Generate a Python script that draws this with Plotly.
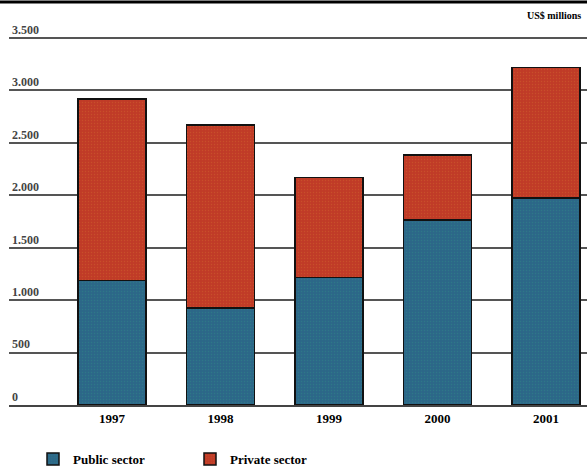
import plotly.graph_objects as go

# Investment by sector, US$ millions
years = ["1997", "1998", "1999", "2000", "2001"]
public_sector = [1186, 923, 1215, 1765, 1972]
private_sector = [1733, 1746, 954, 620, 1247]

y_tick_values = [0, 500, 1000, 1500, 2000, 2500, 3000, 3500]
y_tick_labels = ["0", "500", "1.000", "1.500", "2.000", "2.500", "3.000", "3.500"]

BLUE = "#2c6788"
RED = "#c03b27"
SERIF = "Liberation Serif"

fig = go.Figure()
fig.add_trace(go.Bar(
    x=years, y=public_sector, name="Public sector",
    marker=dict(color=BLUE, line=dict(color="#111111", width=1.5),
                pattern=dict(shape=".", size=3, solidity=0.15, fgcolor="#2f8a86")),
))
fig.add_trace(go.Bar(
    x=years, y=private_sector, name="Private sector",
    marker=dict(color=RED, line=dict(color="#111111", width=1.5),
                pattern=dict(shape=".", size=3, solidity=0.15, fgcolor="#d0632e")),
))

W, H = 587, 468
ml, mr, mt, mb = 9, 0, 8, 63
plot_w = W - ml - mr
plot_h = H - mt - mb
y_base = H - mb                      # pixel row of the zero line
px_per_unit = (y_base - 38) / 3500   # 3.500 grid line sits near the top
y_top = plot_h / px_per_unit
step = 108.5
x0 = -(112 - ml) / step
x1 = x0 + plot_w / step


def paper_y(py):
    return (y_base - py) / plot_h


fig.update_layout(
    width=W, height=H,
    margin=dict(l=ml, r=mr, t=mt, b=mb, pad=0, autoexpand=False),
    barmode="stack",
    bargap=0.37,
    plot_bgcolor="white",
    paper_bgcolor="white",
    font=dict(family=SERIF, size=12, color="black", weight="bold"),
    showlegend=True,
    legend=dict(
        orientation="h", traceorder="normal",
        x=(33 - ml) / plot_w, xanchor="left",
        y=paper_y(459), yanchor="middle",
        entrywidth=112, entrywidthmode="pixels",
        font=dict(family=SERIF, size=13, weight="bold"),
        itemwidth=30, tracegroupgap=0, bgcolor="rgba(0,0,0,0)",
    ),
    xaxis=dict(
        range=[x0, x1], showgrid=False, ticks="",
        showline=True, linecolor="#444444", linewidth=2,
        tickfont=dict(family=SERIF, size=13, weight="bold"),
        ticklabelstandoff=0,
        fixedrange=True,
    ),
    yaxis=dict(
        range=[0, y_top], tickvals=y_tick_values, ticktext=y_tick_labels,
        showgrid=True, gridcolor="#555555", gridwidth=1.6,
        zeroline=False, showline=False, ticks="",
        ticklabelposition="inside top",
        tickfont=dict(family=SERIF, size=12, weight="bold"),
        fixedrange=True,
    ),
)

# heavy rule across the top of the figure
fig.add_shape(type="line", xref="paper", yref="paper",
              x0=-ml / plot_w, x1=1.0,
              y0=paper_y(2), y1=paper_y(2),
              line=dict(color="black", width=3))

fig.add_annotation(
    text="US$ millions", xref="paper", yref="paper",
    x=(525 - ml) / plot_w, y=paper_y(15),
    xanchor="left", yanchor="middle", showarrow=False,
    font=dict(family=SERIF, size=10, weight="bold"),
)

fig.write_html("out.html")
